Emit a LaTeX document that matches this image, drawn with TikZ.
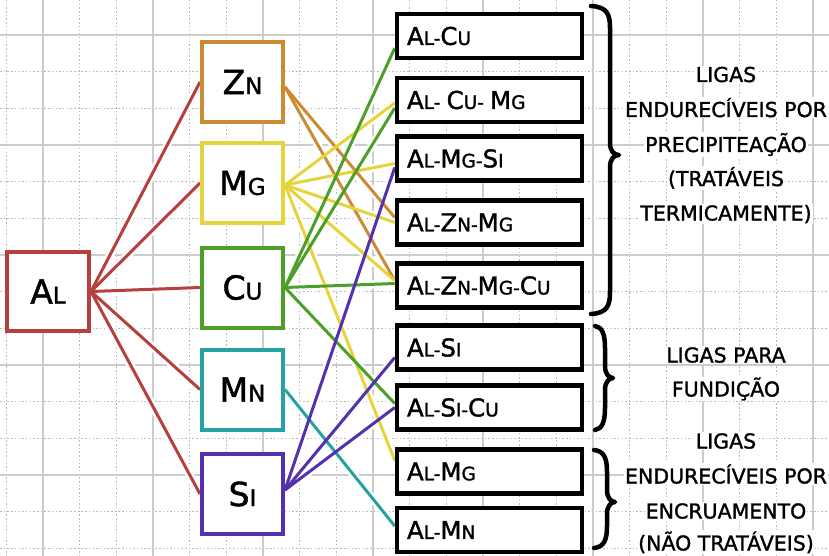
\documentclass[tikz,border=0pt]{standalone}
\usepackage{fontspec}
\setmainfont{DejaVu Sans}[FakeBold=1.4]
\definecolor{alred}{HTML}{B5403E}
\definecolor{znorange}{HTML}{CC8A33}
\definecolor{mgyellow}{HTML}{E6D43C}
\definecolor{cugreen}{HTML}{4CA02A}
\definecolor{mnteal}{HTML}{26A2A2}
\definecolor{sipurple}{HTML}{5431AE}
\newcommand\LB[1]{{\fontsize{33}{33}\selectfont #1}}
\newcommand\RB[1]{{\fontsize{24.5}{24.5}\selectfont #1}}
\pgfdeclarelayer{gridlayer}
\pgfdeclarelayer{halolayer}
\pgfdeclarelayer{linklayer}
\pgfsetlayers{gridlayer,halolayer,linklayer,main}
\newcommand\conn[3]{%
  \begin{pgfonlayer}{halolayer}\draw[white, line width=8pt] (#2) -- (#3);\end{pgfonlayer}%
  \begin{pgfonlayer}{linklayer}\draw[link=#1] (#2) -- (#3);\end{pgfonlayer}}
\newcommand\curlybrace[6]{%
  \draw[brc] (#1,#4) .. controls ({#2-3},{#4+1}) and (#2,{#4+8}) .. (#2,{#4+22})
    -- (#2,{#5-12}) .. controls (#2,{#5-4}) and ({#2+4},#5) .. (#3,#5)
    .. controls ({#2+4},#5) and (#2,{#5+4}) .. (#2,{#5+12})
    -- (#2,{#6-22}) .. controls (#2,{#6-8}) and ({#2-3},{#6-1}) .. (#1,#6);}
\begin{document}
\begin{tikzpicture}[x=1pt,y=-1pt,
  majorgrid/.style={draw=black!20, line width=1.2pt},
  minorgrid/.style={draw=black!28, line width=0.8pt, dash pattern=on 1.5pt off 2.2pt},
  elem/.style={draw=#1, line width=4pt, fill=white, minimum width=81pt, minimum height=80pt,
    inner sep=0pt, font=\fontsize{23}{23}\selectfont},
  alloy/.style={draw=black, line width=4.5pt, fill=white, minimum height=44pt, text width=165pt,
    inner ysep=0pt, inner xsep=10pt, align=left, font=\fontsize{18.5}{18.5}\selectfont},
  link/.style={draw=#1, line width=3pt},
  grp/.style={fill=white, inner sep=1pt, font=\fontsize{20.5}{20.5}\selectfont, anchor=base},
  brc/.style={draw=black, line width=4.5pt, line cap=round, line join=round}
]
\useasboundingbox (0,0) rectangle (829,556);
\begin{pgfonlayer}{gridlayer}
  \fill[white] (0,0) rectangle (829,556);
  \foreach \k in {-1,...,21} \draw[minorgrid] ({43+36.6667*\k},0) -- ({43+36.6667*\k},556);
  \foreach \k in {-1,...,14} \draw[minorgrid] (0,{35+36.6667*\k}) -- (829,{35+36.6667*\k});
  \foreach \k in {0,...,7} \draw[majorgrid] ({43+110*\k},0) -- ({43+110*\k},556);
  \foreach \k in {0,...,4} \draw[majorgrid] (0,{35+110*\k}) -- (829,{35+110*\k});
\end{pgfonlayer}

% element boxes
\node[elem=alred, minimum width=82pt, minimum height=79pt] (al) at (48,291.5) {\LB{A}L};
\node[elem=znorange] (zn) at (242.5,82) {\LB{Z}N};
\node[elem=mgyellow] (mg) at (242.5,183) {\LB{M}G};
\node[elem=cugreen] (cu) at (242.5,287.5) {\LB{C}U};
\node[elem=mnteal] (mn) at (242.5,389.5) {\LB{M}N};
\node[elem=sipurple] (si) at (242.5,494) {\LB{S}I};

% alloy boxes
\node[alloy] (alcu) at (489.5,36) {\RB{A}L-\RB{C}U};
\node[alloy] (alcumg) at (489.5,100) {\RB{A}L- \RB{C}U- \RB{M}G};
\node[alloy] (almgsi) at (489.5,158.5) {\RB{A}L-\RB{M}G-\RB{S}I};
\node[alloy] (alznmg) at (489.5,222.5) {\RB{A}L-\RB{Z}N-\RB{M}G};
\node[alloy] (alznmgcu) at (489.5,285.5) {\RB{A}L-\RB{Z}N-\RB{M}G-\RB{C}U};
\node[alloy] (alsi) at (489.5,347.5) {\RB{A}L-\RB{S}I};
\node[alloy] (alsicu) at (489.5,407.5) {\RB{A}L-\RB{S}I-\RB{C}U};
\node[alloy] (almg) at (489.5,471.5) {\RB{A}L-\RB{M}G};
\node[alloy] (almn) at (489.5,530) {\RB{A}L-\RB{M}N};

% connectors
\conn{alred}{al.east}{zn.west}
\conn{alred}{al.east}{mg.west}
\conn{alred}{al.east}{cu.west}
\conn{alred}{al.east}{mn.west}
\conn{alred}{al.east}{si.west}

\conn{znorange}{[yshift=-5pt]zn.east}{[yshift=5pt]alznmg.west}
\conn{znorange}{[yshift=-5pt]zn.east}{[yshift=5pt]alznmgcu.west}

\conn{mgyellow}{[yshift=-2pt]mg.east}{[yshift=-3pt]alcumg.west}
\conn{mgyellow}{[yshift=-2pt]mg.east}{[yshift=-5pt]almgsi.west}
\conn{mgyellow}{[yshift=-2pt]mg.east}{alznmg.west}
\conn{mgyellow}{[yshift=-2pt]mg.east}{[yshift=5pt]alznmgcu.west}
\conn{mgyellow}{[yshift=-2pt]mg.east}{[yshift=11pt]almg.west}

\conn{cugreen}{cu.east}{[yshift=-12pt]alcu.west}
\conn{cugreen}{cu.east}{[yshift=-8pt]alcumg.west}
\conn{cugreen}{cu.east}{[yshift=2pt]alznmgcu.west}
\conn{cugreen}{cu.east}{[yshift=4pt]alsicu.west}

\conn{mnteal}{mn.east}{[yshift=4pt]almn.west}

\conn{sipurple}{[yshift=4pt]si.east}{[yshift=-9pt]almgsi.west}
\conn{sipurple}{[yshift=4pt]si.east}{[yshift=-10pt]alsi.west}
\conn{sipurple}{[yshift=4pt]si.east}{alsicu.west}

% braces
\curlybrace{591}{610}{619}{6}{155}{314}
\curlybrace{595}{605}{613}{326}{378}{430}
\curlybrace{594}{607}{615}{450}{502}{548}

% group texts
\node[grp] (g1a) at (726,82) {LIGAS};
\node[grp] (g1b) at (726,117) {ENDURECÍVEIS POR};
\node[grp] (g1c) at (726,152) {PRECIPITEAÇÃO};
\node[grp] (g1d) at (726,186) {(TRATÁVEIS};
\node[grp] (g1e) at (726,220.5) {TERMICAMENTE)};
\node[grp] (g2a) at (726,362.5) {LIGAS PARA};
\node[grp] (g2b) at (726,396.5) {FUNDIÇÃO};
\node[grp] (g3a) at (726,448.5) {LIGAS};
\node[grp] (g3b) at (726,483.5) {ENDURECÍVEIS POR};
\node[grp] (g3c) at (726,518.5) {ENCRUAMENTO};
\node[grp] (g3d) at (726,550.5) {(NÃO TRATÁVEIS)};
\end{tikzpicture}
\end{document}
